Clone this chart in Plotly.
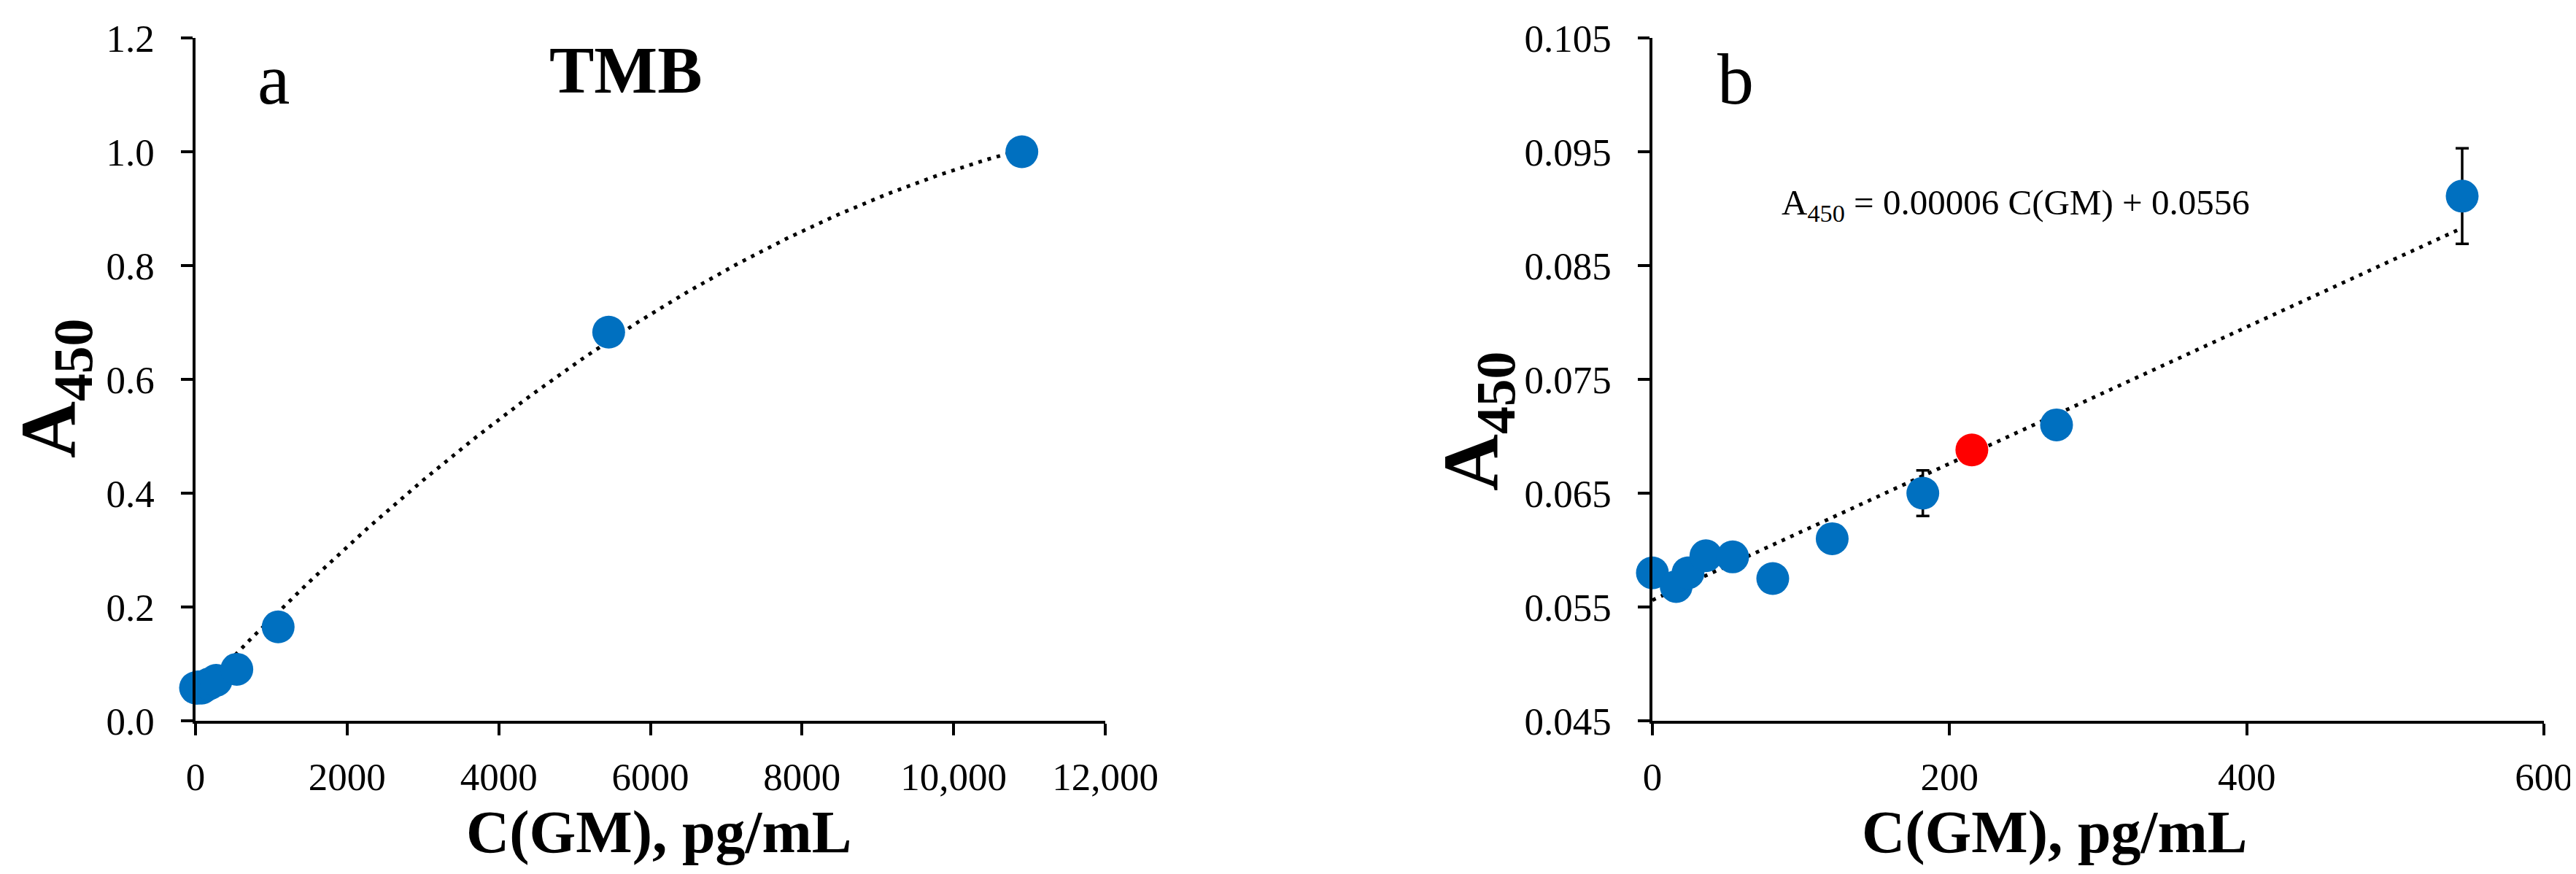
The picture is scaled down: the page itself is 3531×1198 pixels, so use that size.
import numpy as np
import plotly.graph_objects as go

# ---------------- data ----------------
# Panel a (TMB, full range)
a_conc = [0, 16, 24, 36, 54, 81, 121, 182, 272, 545, 1090, 5450, 10900]
a_abs = [0.058, 0.057, 0.058, 0.0595, 0.0595, 0.0575, 0.061, 0.065, 0.071, 0.0905, 0.165, 0.683, 1.0]

# Panel b (linear range)
b_conc = [0, 16, 24, 36, 54, 81, 121, 182, 272, 545]
b_abs = [0.058, 0.0568, 0.058, 0.0595, 0.0594, 0.0575, 0.061, 0.065, 0.071, 0.0911]
b_err = [0, 0, 0, 0, 0, 0, 0, 0.002, 0, 0.0042]
red_conc = [215]
red_abs = [0.0688]

# linear calibration shown in panel b
slope_b = 0.00006
intercept_b = 0.0556

a_xticks = [0, 2000, 4000, 6000, 8000, 10000, 12000]
a_xticktext = ["0", "2000", "4000", "6000", "8000", "10,000", "12,000"]
a_yticks = [0.0, 0.2, 0.4, 0.6, 0.8, 1.0, 1.2]
b_xticks = [0, 200, 400, 600]
b_yticks = [0.045, 0.055, 0.065, 0.075, 0.085, 0.095, 0.105]

BLUE = "#0070C0"
RED = "#FF0000"
FONT = "Liberation Serif, Times New Roman, serif"

W, H = 3531, 1198

def px(x):
    return x / W

def py(y):
    return 1 - y / H

fig = go.Figure()

# ---- panel a trendline (2nd order polynomial fit, Excel-style) ----
coef = np.polyfit(a_conc, a_abs, 2)
xa = np.linspace(0, max(a_conc), 200)
fig.add_trace(go.Scatter(x=xa, y=np.polyval(coef, xa), mode="lines",
                         line=dict(color="black", width=5, dash="5px,8px"),
                         xaxis="x", yaxis="y", hoverinfo="skip", showlegend=False))
fig.add_trace(go.Scatter(x=a_conc, y=a_abs, mode="markers",
                         marker=dict(color=BLUE, size=45),
                         xaxis="x", yaxis="y", cliponaxis=False, showlegend=False))

# ---- panel b trendline ----
xb = np.array([0, max(b_conc)])
fig.add_trace(go.Scatter(x=xb, y=slope_b * xb + intercept_b, mode="lines",
                         line=dict(color="black", width=5, dash="5px,8px"),
                         xaxis="x2", yaxis="y2", hoverinfo="skip", showlegend=False))
fig.add_trace(go.Scatter(x=b_conc, y=b_abs, mode="markers",
                         marker=dict(color=BLUE, size=45),
                         error_y=dict(type="data", array=b_err, visible=True,
                                      color="black", thickness=3.5, width=9),
                         xaxis="x2", yaxis="y2", cliponaxis=False, showlegend=False))
fig.add_trace(go.Scatter(x=red_conc, y=red_abs, mode="markers",
                         marker=dict(color=RED, size=45),
                         xaxis="x2", yaxis="y2", cliponaxis=False, showlegend=False))

axis_common = dict(showline=True, linecolor="black", linewidth=3.5,
                   ticks="outside", ticklen=16, tickwidth=3.5, tickcolor="black",
                   showgrid=False, zeroline=False, automargin=False,
                   tickfont=dict(family=FONT, size=53, color="black"))

ydom = [py(980), py(44)]

fig.update_layout(
    width=W, height=H,
    margin=dict(l=0, r=0, t=0, b=0, autoexpand=False),
    paper_bgcolor="white", plot_bgcolor="white",
    xaxis=dict(domain=[px(260), px(1507)], range=[0, 12000],
               tickvals=a_xticks, ticktext=a_xticktext, anchor="y",
               ticklabelstandoff=12, **axis_common),
    yaxis=dict(domain=ydom, range=[0, 1.2], tickvals=a_yticks,
               tickformat=".1f", anchor="x", ticklabelstandoff=26, **axis_common),
    xaxis2=dict(domain=[px(2257), px(3479)], range=[0, 600],
                tickvals=b_xticks, anchor="y2", ticklabelstandoff=12, **axis_common),
    yaxis2=dict(domain=ydom, range=[0.045, 0.105], tickvals=b_yticks,
                tickformat=".3f", anchor="x2", ticklabelstandoff=26, **axis_common),
)

ann = []
# axis titles
for xc in (895, 2808):
    ann.append(dict(x=px(xc), y=py(1132), xref="paper", yref="paper",
                    text="<b>C(GM), pg/mL</b>", showarrow=False,
                    font=dict(family=FONT, size=82, color="black"),
                    xanchor="center", yanchor="middle"))
for xc, yc in ((66, 525), (2016, 570)):
    ann.append(dict(x=px(xc), y=py(yc), xref="paper", yref="paper",
                    text="<b>A<sub>450</sub></b>", showarrow=False, textangle=-90,
                    font=dict(family=FONT, size=108, color="black"),
                    xanchor="center", yanchor="middle"))
# panel labels
ann.append(dict(x=px(367), y=py(100), xref="paper", yref="paper", text="a",
                showarrow=False, font=dict(family=FONT, size=100, color="black"),
                xanchor="center", yanchor="middle"))
ann.append(dict(x=px(2371), y=py(100), xref="paper", yref="paper", text="b",
                showarrow=False, font=dict(family=FONT, size=100, color="black"),
                xanchor="center", yanchor="middle"))
ann.append(dict(x=px(850), y=py(88), xref="paper", yref="paper", text="<b>TMB</b>",
                showarrow=False, font=dict(family=FONT, size=92, color="black"),
                xanchor="center", yanchor="middle"))
# equation
ann.append(dict(x=px(2432), y=py(272), xref="paper", yref="paper",
                text=f"A<sub>450</sub> = {slope_b:.5f} C(GM) + {intercept_b}",
                showarrow=False, font=dict(family=FONT, size=49, color="black"),
                xanchor="left", yanchor="middle"))
fig.update_layout(annotations=ann)

fig.write_html("out.html")
